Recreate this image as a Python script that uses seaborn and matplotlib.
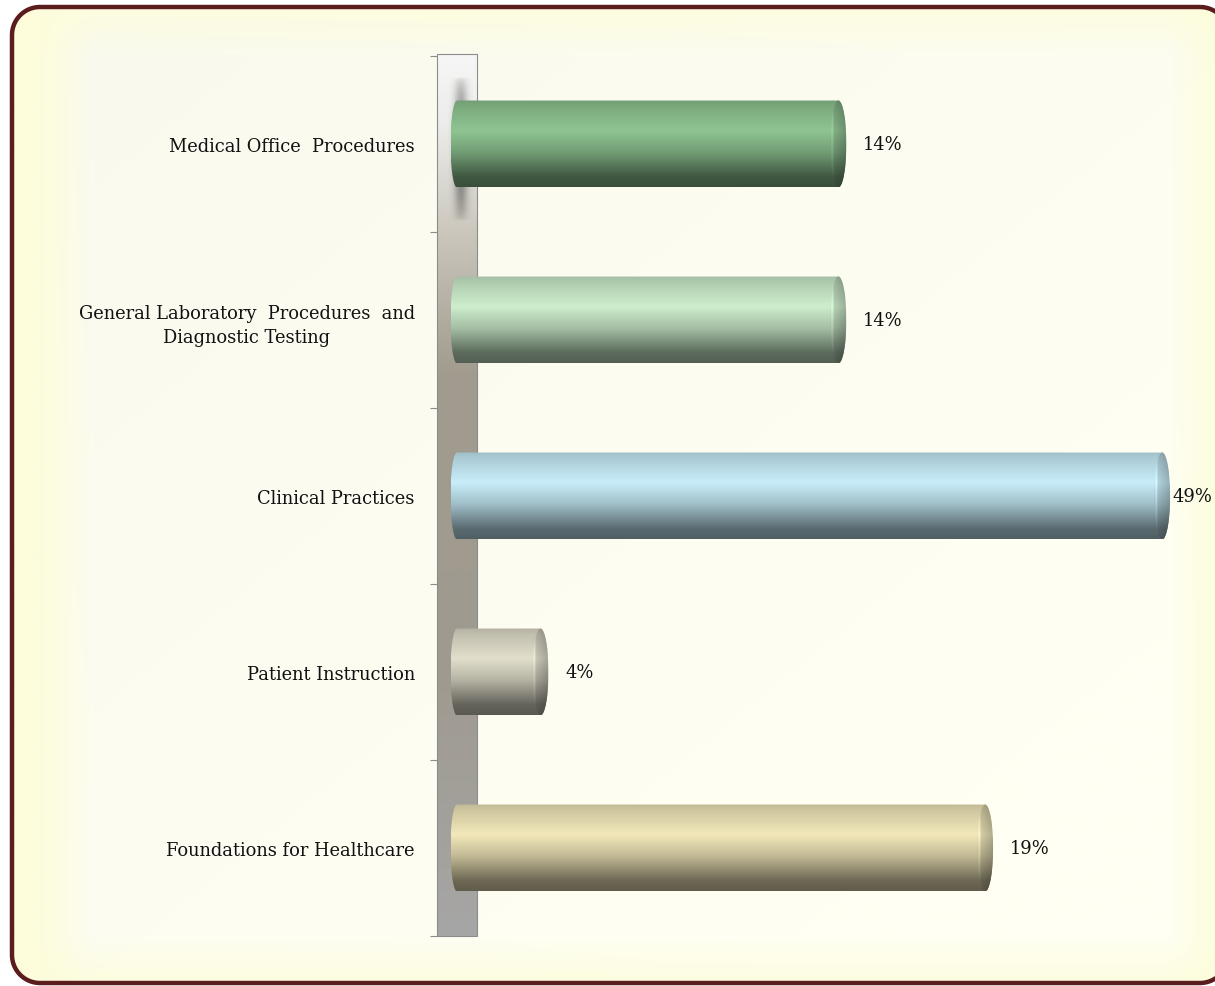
import numpy as np
import pandas as pd
import matplotlib
matplotlib.use("Agg")
import matplotlib.pyplot as plt
import seaborn as sns
from matplotlib.path import Path
from matplotlib.patches import PathPatch, Ellipse, Rectangle
from matplotlib.colors import to_rgb

# ---------------- data ----------------
categories = [
    "Medical Office  Procedures",
    "General Laboratory  Procedures  and\nDiagnostic Testing",
    "Clinical Practices",
    "Patient Instruction",
    "Foundations for Healthcare",
]
bar_length = [26.5, 26.5, 49.0, 5.8, 36.7]          # lengths
pct_labels = ["14%", "14%", "49%", "4%", "19%"]
highlight_colors = ["#8fc592", "#cdeecd", "#c8eefa", "#e2dfcc", "#f2e8ba"]

df = pd.DataFrame({"category": categories, "value": bar_length})

# ---------------- figure ----------------
W, H = 1215, 987
fig = plt.figure(figsize=(W / 100, H / 100), dpi=100)
fig.patch.set_facecolor("white")

bg = fig.add_axes([0, 0, 1, 1], zorder=-10)
bg.axis("off")

def rounded_rect_path(x0, y0, x1, y1, r, n=20):
    pts = []
    corners = [((x1 - r, y0 + r), -np.pi / 2, 0),
               ((x1 - r, y1 - r), 0, np.pi / 2),
               ((x0 + r, y1 - r), np.pi / 2, np.pi),
               ((x0 + r, y0 + r), np.pi, 1.5 * np.pi)]
    for (cx, cy), a0, a1 in corners:
        for a in np.linspace(a0, a1, n):
            pts.append((cx + r * np.cos(a), cy + r * np.sin(a)))
    pts.append(pts[0])
    codes = [Path.MOVETO] + [Path.LINETO] * (len(pts) - 2) + [Path.CLOSEPOLY]
    return Path(pts, codes)

frame_path = rounded_rect_path(12, 8, 1228, 984, 28)

# gradient fill of the frame
yy, xx = np.mgrid[0:H:2, 0:W + 30:2].astype(float)
def ramp(d, e):
    return np.clip(d / e + 0.5, 0, 1)
tx = ramp(np.minimum(xx - 66, 1195 - xx), 55)
ty = ramp(np.minimum(yy - 28, 965 - yy), 55)
t = tx * ty
outer = np.array(to_rgb("#fdfddc"))
inner_a = np.array(to_rgb("#f9f9ee"))
inner_b = np.array(to_rgb("#fffff3"))
diag = np.clip((xx / W + yy / H) / 1.6, 0, 1)[..., None]
inner = inner_a * (1 - diag) + inner_b * diag
img = outer * (1 - t[..., None]) + inner * t[..., None]
im = bg.imshow(img, extent=(0, W + 30, H, 0), origin="upper", aspect="auto",
               interpolation="bilinear", zorder=1)
clip_patch = PathPatch(frame_path, facecolor="none", edgecolor="none", transform=bg.transData)
bg.add_patch(clip_patch)
im.set_clip_path(clip_patch)
bg.add_patch(PathPatch(frame_path, facecolor="none", edgecolor="#5a1c1c",
                       linewidth=3.2, zorder=5, clip_on=False))

# back wall
wall_x0, wall_x1, wall_y0, wall_y1 = 437, 477, 55, 937
stops = [(0.0, "#f6f6f6"), (0.08, "#ececea"), (0.2, "#cbc7bd"), (0.36, "#a29c8f"),
         (0.7, "#9f9a8f"), (1.0, "#a6a6a6")]
pos = np.linspace(0, 1, 300)
sp = [s_[0] for s_ in stops]
cols = np.array([to_rgb(s_[1]) for s_ in stops])
wall = np.stack([np.interp(pos, sp, cols[:, k]) for k in range(3)], axis=1)[:, None, :]
bg.imshow(wall, extent=(wall_x0, wall_x1, wall_y1, wall_y0), origin="upper",
          aspect="auto", interpolation="bilinear", zorder=2)
sy = np.linspace(0, 1, 200)
sx = np.linspace(-1, 1, 40)
SX, SY = np.meshgrid(sx, sy)
alpha = np.exp(-(SX / 0.45) ** 2) * np.clip(np.sin(np.pi * SY), 0, 1) ** 0.5 * 0.42
shadow = np.zeros((200, 40, 4))
shadow[..., 3] = alpha
bg.imshow(shadow, extent=(446, 476, 222, 78), origin="upper", aspect="auto",
          interpolation="bilinear", zorder=3)
bg.add_patch(Rectangle((wall_x0, wall_y0), wall_x1 - wall_x0, wall_y1 - wall_y0,
                       facecolor="none", edgecolor="#8c8c8c", linewidth=0.8, zorder=4))
bg.set_xlim(0, W)
bg.set_ylim(H, 0)

# ---------------- main axes ----------------
s = 14.39                    # px per unit
zero_px = 457
L_px, R_px, T_px, B_px = 437, 1215, 57, 937
ax = fig.add_axes([L_px / W, 1 - B_px / H, (R_px - L_px) / W, (B_px - T_px) / H], zorder=5)
ax.patch.set_alpha(0)

sns.barplot(data=df, y="category", x="value", orient="h", width=0.494, ax=ax,
            color="gray", saturation=1)
for sp_ in ax.spines.values():
    sp_.set_visible(False)
ax.set_xlabel("")
ax.set_ylabel("")
ax.set_xticks([])
ax.set_yticks(range(len(categories)))
ax.set_yticklabels(categories, family="DejaVu Serif", fontsize=12.9, color="#111111",
                   multialignment="center", linespacing=1.45)
ax.tick_params(axis="y", which="major", length=0, pad=16)
ax.set_yticks(np.arange(-0.5, len(categories)), minor=True)
ax.tick_params(axis="y", which="minor", length=5, width=0.8, color="#8c8c8c", direction="out")

def profile(tv):
    return np.interp(tv, [0.0, 0.08, 0.35, 0.6, 0.88, 1.0], [0.80, 0.86, 1.0, 0.80, 0.45, 0.40])

rx_l = 6.5 / s
rx_r = 8.0 / s
theta = np.linspace(-np.pi / 2, np.pi / 2, 60)
for patch, hc, lab in zip(ax.patches, highlight_colors, pct_labels):
    x0, w = patch.get_x(), patch.get_width()
    y0, h = patch.get_y(), patch.get_height()
    patch.set_visible(False)
    yc = y0 + h / 2
    x1 = x0 + w
    right = [(x1 + rx_r * np.cos(a), yc + (h / 2) * np.sin(a)) for a in theta]
    left = [(x0 - rx_l * np.cos(a), yc - (h / 2) * np.sin(a)) for a in theta]
    verts = right + left + [right[0]]
    codes = [Path.MOVETO] + [Path.LINETO] * (len(verts) - 2) + [Path.CLOSEPOLY]
    body_path = PathPatch(Path(verts, codes), facecolor="none", edgecolor="none",
                          transform=ax.transData)
    ax.add_patch(body_path)
    tv = np.linspace(0, 1, 200)
    base = np.array(to_rgb(hc))
    grad = np.clip(base[None, :] * profile(tv)[:, None], 0, 1)[:, None, :]
    bim = ax.imshow(grad, extent=(x0 - rx_l, x1 + rx_r, y0 + h, y0), origin="upper",
                    aspect="auto", interpolation="bilinear", zorder=3)
    bim.set_clip_path(body_path)
    cap = Ellipse((x1, yc), 2 * rx_r, h, facecolor="none", edgecolor="none",
                  transform=ax.transData)
    ax.add_patch(cap)
    hx = np.linspace(0, 1, 30)
    hfac = np.interp(hx, [0, 0.12, 0.25, 1.0], [0.95, 1.12, 0.9, 0.75])
    cgrad = base[None, None, :] * profile(tv)[:, None, None] * hfac[None, :, None]
    cgrad = np.clip(cgrad * 0.95 + 0.03, 0, 1)
    cim = ax.imshow(cgrad, extent=(x1 - rx_r, x1 + rx_r, y0 + h, y0), origin="upper",
                    aspect="auto", interpolation="bilinear", zorder=4)
    cim.set_clip_path(cap)
    lx_px = zero_px + x1 * s + 8 + 17
    if lx_px > 1172:
        lx_px = 1172
    ax.text((lx_px - zero_px) / s, yc, lab, ha="left", va="center",
            family="DejaVu Serif", fontsize=12.9, color="#111111", zorder=6)

ax.set_xlim(-(zero_px - L_px) / s, (R_px - zero_px) / s)
ax.set_ylim(len(categories) - 0.5, -0.5)

fig.savefig("out.png", dpi=100)
